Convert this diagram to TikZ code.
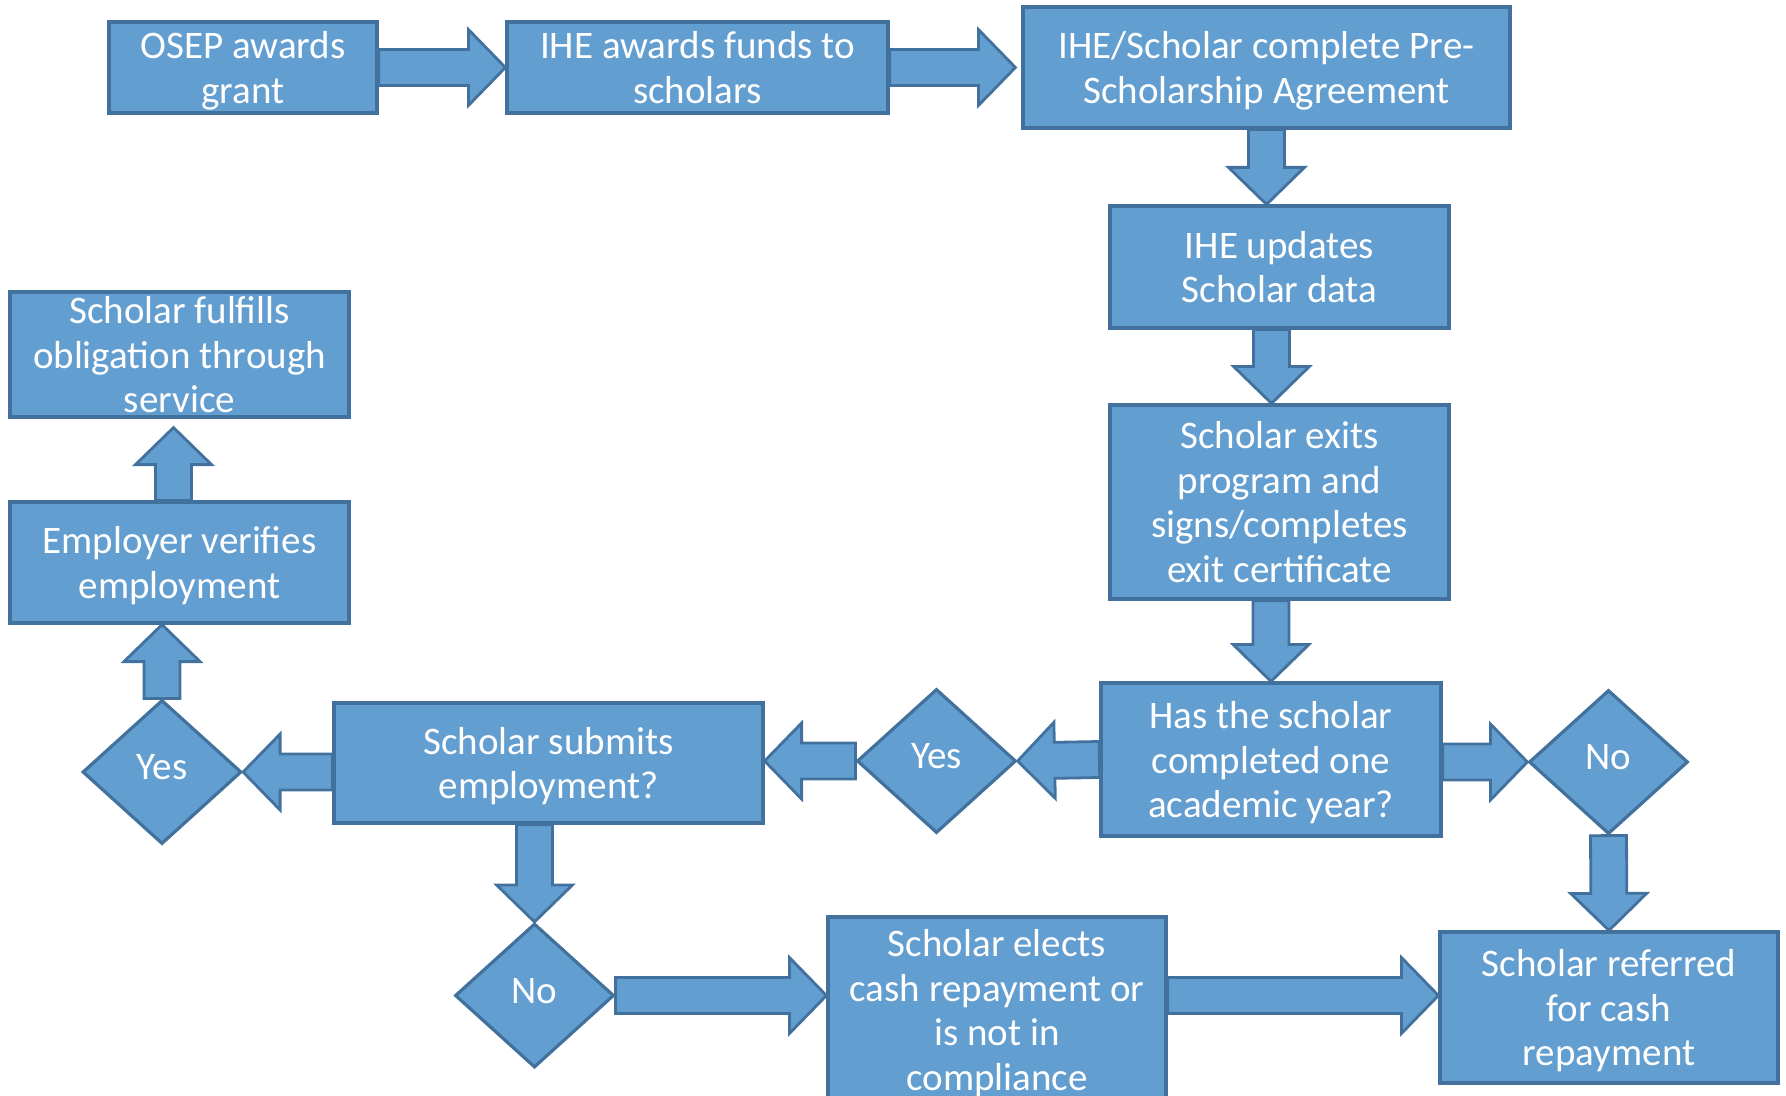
\documentclass[tikz,border=0pt]{standalone}
\usepackage{fontspec}
\setmainfont{Carlito}
\usetikzlibrary{shapes.geometric, calc}

\definecolor{boxblue}{RGB}{99,158,209}
\definecolor{edgeblue}{RGB}{65,113,156}

\begin{document}
\begin{tikzpicture}[
        x=0.5pt, y=-0.5pt,
        font=\fontsize{19.5}{22.3}\selectfont,
        base/.style={draw=edgeblue, fill=boxblue, line width=1.6pt, text=white, align=center, inner sep=0pt},
        process/.style={base, rectangle, minimum width=169.5pt, text depth=0pt},
        decision/.style={base, diamond, minimum width=79.5pt, minimum height=72pt, text depth=4.6pt},
        arrow/.style={draw=edgeblue, fill=boxblue, line width=1.4pt,
            to path={let \p1=(\tikztostart), \p2=(\tikztotarget), \p3=($(\p2)!18.5pt!(\p1)$) in
                ($(\p1)!9pt!90:(\p2)$) -- ($(\p3)!9pt!90:(\p2)$) -- ($(\p3)!19pt!90:(\p2)$) -- (\p2)
                -- ($(\p3)!19pt!-90:(\p2)$) -- ($(\p3)!9pt!-90:(\p2)$) -- ($(\p1)!9pt!-90:(\p2)$) -- cycle}}
    ]
    \useasboundingbox (0,0) rectangle (1786,1096);

    % Nodes
    \node[process, minimum width=134pt, minimum height=45.5pt] (osep) at (243,67.5) {OSEP awards\\grant};
    \node[process, minimum width=190.5pt, minimum height=45.5pt] (iheawards) at (697.5,67.5) {IHE awards funds to\\scholars};
    \node[process, minimum width=243.5pt, minimum height=60.5pt] (agreement) at (1266.5,67.5) {IHE/Scholar complete Pre-\\Scholarship Agreement};
    \node[process, minimum height=61pt] (updates) at (1279.5,267) {IHE updates\\Scholar data};
    \node[process, minimum height=97pt] (exits) at (1279.5,502) {Scholar exits\\program and\\signs/completes\\exit certificate};
    \node[process, minimum width=170pt, minimum height=76.5pt] (question) at (1271,759.5) {Has the scholar\\completed one\\academic year?};
    \node[decision] (noright) at (1608.5,762) {No};
    \node[decision] (yesmid) at (936.5,761) {Yes};
    \node[process, minimum width=214.5pt, minimum height=60pt] (submits) at (548.5,763) {Scholar submits\\employment?};
    \node[decision] (yesleft) at (162,772) {Yes};
    \node[process, minimum height=60.5pt] (employer) at (179.5,562.5) {Employer verifies\\employment};
    \node[process, minimum height=62.5pt] (fulfills) at (179.5,354.5) {Scholar fulfills\\obligation through\\service};
    \node[decision] (nobottom) at (534.5,995.5) {No};
    \node[process, minimum width=169pt, minimum height=93pt] (elects) at (997,1010) {Scholar elects\\cash repayment or\\is not in\\compliance};
    \node[process, minimum width=169pt, minimum height=75.5pt] (referred) at (1609,1007.5) {Scholar referred\\for cash\\repayment};

    % Arrows
    \draw[arrow] (osep.east) to (iheawards.west);
    \draw[arrow] (iheawards.east) to ([xshift=-3pt]agreement.west);
    \draw[arrow] (agreement.south) to (agreement.south |- updates.north);
    \draw[arrow] ([xshift=-4pt]updates.south) to ([xshift=-4pt]exits.north);
    \draw[arrow] (question.north |- exits.south) to (question.north);
    \draw[arrow] (question.west) to (yesmid.east);
    \draw[arrow] (yesmid.west) to (submits.east |- yesmid.west);
    \draw[arrow] (submits.west |- yesleft.east) to (yesleft.east);
    \draw[arrow] (yesleft.north) to (yesleft.north |- employer.south);
    \draw[arrow] ([xshift=-3pt]employer.north) to ([xshift=-3pt,yshift=-4.5pt]fulfills.south);
    \draw[arrow] (nobottom.north |- submits.south) to (nobottom.north);
    \draw[arrow] (nobottom.east) to (elects.west |- nobottom.east);
    \draw[arrow] (elects.east |- nobottom.east) to (referred.west |- nobottom.east);
    \draw[arrow] (question.east |- noright.west) to (noright.west);
    \draw[arrow] (noright.south) to (referred.north);

\end{tikzpicture}
\end{document}
